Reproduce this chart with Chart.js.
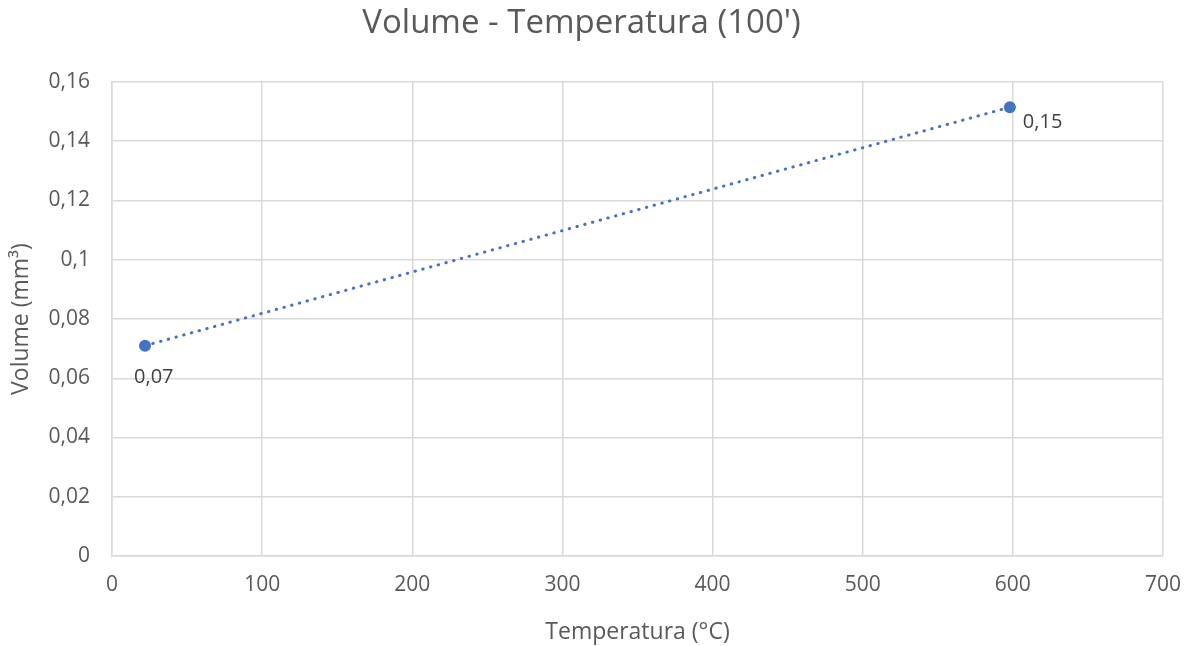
<!DOCTYPE html>
<html>
<head>
<meta charset="utf-8">
<script src="https://cdn.jsdelivr.net/npm/chart.js@4/dist/chart.umd.min.js"></script>
<style>
  body { margin: 0; background: #fff; }
  canvas { display: block; }
</style>
</head>
<body>
<canvas id="myChart" width="1198" height="646"></canvas>
<script>
// data
const temperatures = [22, 598];
const volumes = [0.071, 0.1515];
const pointLabels = ["0,07", "0,15"];

const xTicks = [0, 100, 200, 300, 400, 500, 600, 700];
const yTicks = [0, 0.02, 0.04, 0.06, 0.08, 0.1, 0.12, 0.14, 0.16];

const textColor = "#595959";
const gridColor = "#d9d9d9";
const blue = "#4472c4";
const fontFamily = "'Open Sans', sans-serif";

// comma as decimal separator
const fmt = v => String(+v.toFixed(2)).replace(".", ",");

// draw the value labels next to the points
const labelPlugin = {
  id: "pointLabels",
  afterDatasetsDraw(chart) {
    const ctx = chart.ctx;
    const meta = chart.getDatasetMeta(0);
    ctx.save();
    ctx.font = "20px " + fontFamily;
    ctx.fillStyle = "#404040";
    ctx.textBaseline = "middle";
    ctx.textAlign = "left";
    meta.data.forEach((pt, i) => {
      // first label sits under the point, the last to its right
      if (i === 0) ctx.fillText(pointLabels[i], pt.x - 11, pt.y + 32);
      else ctx.fillText(pointLabels[i], pt.x + 13, pt.y + 15);
    });
    ctx.restore();
  }
};

const ctx = document.getElementById("myChart").getContext("2d");

const myChart = new Chart(ctx, {
  type: "scatter",
  data: {
    datasets: [{
      data: temperatures.map((t, i) => ({ x: t, y: volumes[i] })),
      showLine: true,
      borderColor: blue,
      backgroundColor: blue,
      borderWidth: 3,
      borderDash: [0.5, 7.5],
      borderCapStyle: "round",
      pointRadius: 6,
      pointBorderWidth: 0
    }]
  },
  options: {
    responsive: false,
    animation: false,
    layout: { padding: { left: 0, right: 35, top: 0, bottom: 0 } },
    plugins: {
      legend: { display: false },
      tooltip: { enabled: false },
      title: {
        display: true,
        text: "Volume - Temperatura (100')",
        color: textColor,
        font: { family: fontFamily, size: 33, weight: "normal" },
        padding: { top: 4, bottom: 38.4 }
      }
    },
    scales: {
      x: {
        type: "linear",
        min: 0,
        max: 700,
        afterBuildTicks: s => { s.ticks = xTicks.map(v => ({ value: v })); },
        afterFit: s => { s.height = 90; },
        grid: { color: gridColor, lineWidth: 1.5, drawTicks: false },
        border: { color: gridColor, width: 1.5 },
        ticks: {
          color: textColor,
          padding: 16,
          maxRotation: 0,
          font: { family: fontFamily, size: 21 },
          callback: v => String(v)
        },
        title: {
          display: true,
          text: "Temperatura (°C)",
          color: textColor,
          font: { family: fontFamily, size: 23 },
          padding: { top: 0, bottom: 0 }
        }
      },
      y: {
        type: "linear",
        min: 0,
        max: 0.16,
        afterBuildTicks: s => { s.ticks = yTicks.map(v => ({ value: v })); },
        afterFit: s => { s.width = 112; },
        grid: { color: gridColor, lineWidth: 1.5, drawTicks: false },
        border: { color: gridColor, width: 1.5 },
        ticks: {
          color: textColor,
          padding: 22,
          font: { family: fontFamily, size: 21 },
          callback: v => fmt(v)
        },
        title: {
          display: true,
          text: "Volume (mm³)",
          color: textColor,
          font: { family: fontFamily, size: 23 },
          padding: { top: 8, bottom: 0 }
        }
      }
    }
  },
  plugins: [labelPlugin]
});
</script>
</body>
</html>
